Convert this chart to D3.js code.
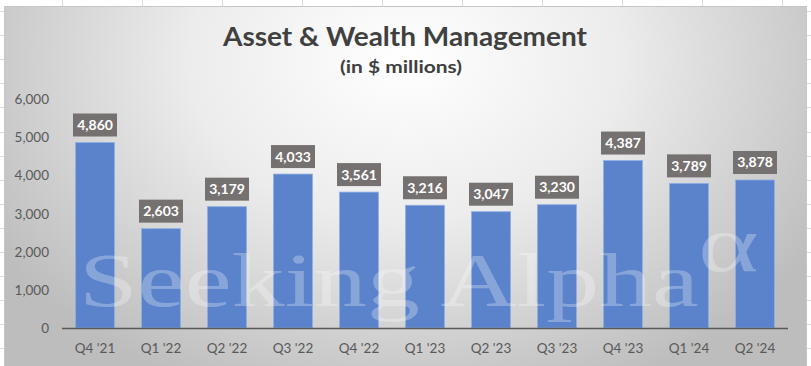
<!DOCTYPE html>
<html>
<head>
<meta charset="utf-8">
<script src="https://cdn.jsdelivr.net/npm/d3@7"></script>
<style>
  body { margin: 0; background: #fff; }
  svg { display: block; font-family: Lato, "Open Sans", sans-serif; }
</style>
</head>
<body>
<svg id="chart" viewBox="0 0 811 366" width="811" height="366"></svg>
<script>
const quarters = ["Q4 '21", "Q1 '22", "Q2 '22", "Q3 '22", "Q4 '22", "Q1 '23", "Q2 '23", "Q3 '23", "Q4 '23", "Q1 '24", "Q2 '24"];
const revenue = [4860, 2603, 3179, 4033, 3561, 3216, 3047, 3230, 4387, 3789, 3878];
const yTicks = [0, 1000, 2000, 3000, 4000, 5000, 6000];

const svg = d3.select("#chart");
const width = 811, height = 366;

// spreadsheet grid behind the chart
const sheet = svg.append("g");
sheet.selectAll(".row")
  .data(d3.range(11, height, 24.1))
  .enter().append("line")
  .attr("x1", 0).attr("x2", width)
  .attr("y1", d => Math.round(d) + 0.5).attr("y2", d => Math.round(d) + 0.5)
  .attr("stroke", "#dadada");
sheet.selectAll(".col")
  .data(d3.range(62, width, 80))
  .enter().append("line")
  .attr("y1", 0).attr("y2", height)
  .attr("x1", d => d + 0.5).attr("x2", d => d + 0.5)
  .attr("stroke", "#dadada");

// chart area background gradient
const defs = svg.append("defs");
const grad = defs.append("radialGradient")
  .attr("id", "bg")
  .attr("gradientUnits", "userSpaceOnUse")
  .attr("cx", 405).attr("cy", 60).attr("r", 480)
  .attr("gradientTransform", "translate(405,60) scale(1,0.75) translate(-405,-60)");
grad.append("stop").attr("offset", "0%").attr("stop-color", "#ffffff");
grad.append("stop").attr("offset", "45%").attr("stop-color", "#ececec");
grad.append("stop").attr("offset", "100%").attr("stop-color", "#bdbdbd");

svg.append("rect")
  .attr("x", 4.5).attr("y", 6.5)
  .attr("width", 802).attr("height", 370)
  .attr("fill", "url(#bg)")
  .attr("stroke", "#c6c6c6");

const margin = {left: 62, right: 23, top: 99, bottom: 38};
const x = d3.scaleBand()
  .domain(quarters)
  .range([margin.left, width - margin.right])
  .paddingInner(0.41)
  .paddingOuter(0.205);
const y = d3.scaleLinear()
  .domain([0, 6000])
  .range([height - margin.bottom, margin.top]);

// title
svg.append("text")
  .attr("x", 405).attr("y", 46)
  .attr("text-anchor", "middle")
  .attr("font-size", 26).attr("font-weight", "bold")
  .attr("fill", "#404040")
  .attr("textLength", 364).attr("lengthAdjust", "spacingAndGlyphs")
  .text("Asset & Wealth Management");
svg.append("text")
  .attr("x", 401).attr("y", 73)
  .attr("text-anchor", "middle")
  .attr("font-size", 17).attr("font-weight", "bold")
  .attr("fill", "#404040")
  .attr("textLength", 122).attr("lengthAdjust", "spacingAndGlyphs")
  .text("(in $ millions)");

// y axis labels
svg.append("g").selectAll("text")
  .data(yTicks)
  .enter().append("text")
  .attr("x", 49)
  .attr("y", d => y(d) + 5)
  .attr("text-anchor", "end")
  .attr("font-size", 13.5)
  .attr("fill", "#595959")
  .text(d => d3.format(",")(d));

// bars
svg.append("g").selectAll("rect")
  .data(revenue)
  .enter().append("rect")
  .attr("x", (d, i) => x(quarters[i]))
  .attr("y", d => y(d))
  .attr("width", x.bandwidth())
  .attr("height", d => y(0) - y(d))
  .attr("fill", "#5a83cb")
  .attr("stroke", "#8eaee6")
  .attr("stroke-width", 0.8);

// watermark
const wm = svg.append("g").attr("fill", "#ffffff").attr("fill-opacity", 0.28)
  .attr("font-family", "'Liberation Serif', 'DejaVu Serif', serif");
wm.append("text")
  .attr("x", 79).attr("y", 306)
  .attr("font-size", 76)
  .attr("textLength", 620).attr("lengthAdjust", "spacingAndGlyphs")
  .text("Seeking Alpha");
wm.append("text")
  .attr("transform", "translate(698,271) scale(1.45,1)")
  .attr("font-size", 80)
  .text("α");

// x axis line
svg.append("line")
  .attr("x1", margin.left).attr("x2", width - margin.right)
  .attr("y1", y(0) + 0.5).attr("y2", y(0) + 0.5)
  .attr("stroke", "#595959").attr("stroke-width", 1.5);

// category labels
svg.append("g").selectAll("text")
  .data(quarters)
  .enter().append("text")
  .attr("x", d => x(d) + x.bandwidth() / 2)
  .attr("y", 353)
  .attr("text-anchor", "middle")
  .attr("font-size", 13.5)
  .attr("fill", "#595959")
  .text(d => d);

// data labels
const labels = svg.append("g").selectAll("g")
  .data(revenue)
  .enter().append("g")
  .attr("transform", (d, i) => `translate(${x(quarters[i]) + x.bandwidth() / 2},${y(d) - 6})`);
labels.append("rect")
  .attr("x", -22).attr("y", -23)
  .attr("width", 44).attr("height", 23)
  .attr("fill", "#767171");
labels.append("text")
  .attr("y", -6.5)
  .attr("text-anchor", "middle")
  .attr("font-size", 14).attr("font-weight", "bold")
  .attr("fill", "#ffffff")
  .text(d => d3.format(",")(d));
</script>
</body>
</html>
